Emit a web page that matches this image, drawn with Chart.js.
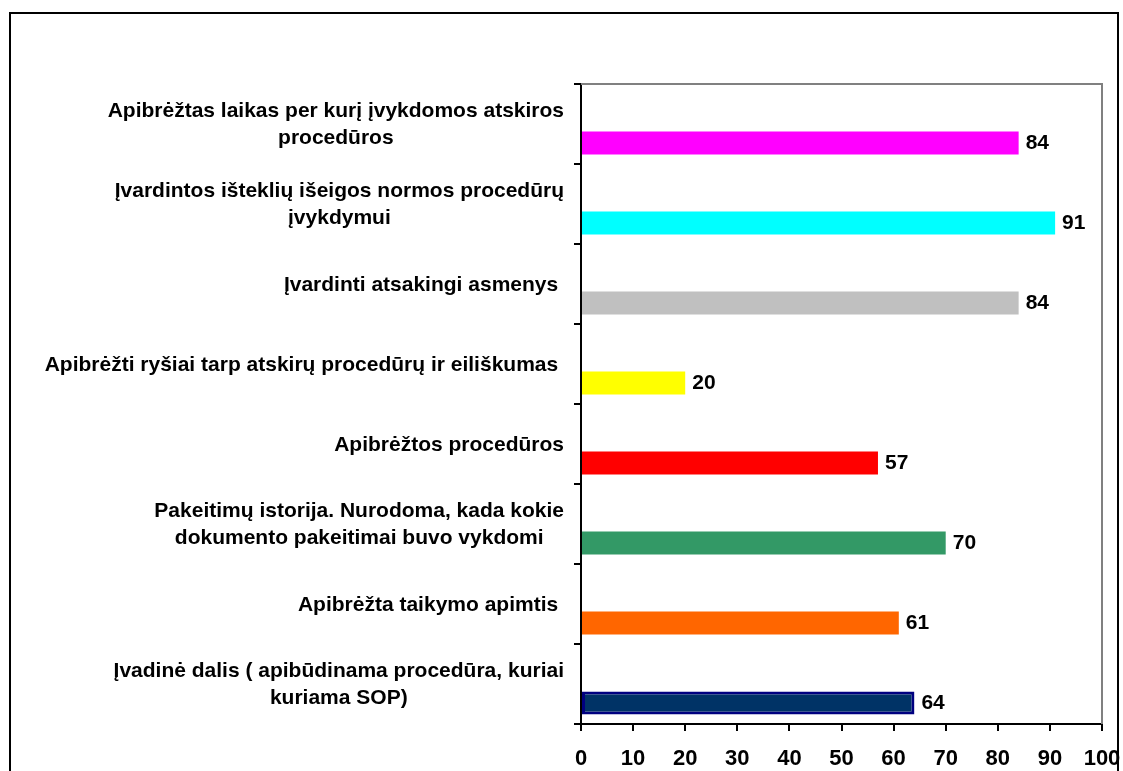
<!DOCTYPE html>
<html>
<head>
<meta charset="utf-8">
<script src="https://cdn.jsdelivr.net/npm/chart.js@4/dist/chart.umd.min.js"></script>
<style>
  html, body { margin: 0; padding: 0; background: #fff; overflow: hidden; }
  #wrap { position: relative; width: 1123px; height: 771px; }
  #frame { position: absolute; left: 9px; top: 12px; width: 1106px; height: 800px; border: 2px solid #000; }
  canvas { position: absolute; left: 0; top: 0; }
</style>
</head>
<body>
<div id="wrap">
  <div id="frame"></div>
  <canvas id="c" width="1123" height="771"></canvas>
</div>
<script>
// Categories (top to bottom); each entry is a list of text lines
const categories = [
  ["Apibrėžtas laikas per kurį įvykdomos atskiros", "procedūros"],
  ["Įvardintos išteklių išeigos normos procedūrų", "įvykdymui"],
  ["Įvardinti atsakingi asmenys "],
  ["Apibrėžti ryšiai tarp atskirų procedūrų ir eiliškumas "],
  ["Apibrėžtos procedūros"],
  ["Pakeitimų istorija. Nurodoma, kada kokie", "dokumento pakeitimai buvo vykdomi"],
  ["Apibrėžta taikymo apimtis "],
  ["Įvadinė dalis ( apibūdinama procedūra, kuriai", "kuriama SOP)"]
];

// Percentage values per category
const values = [84, 91, 84, 20, 57, 70, 61, 64];

// Bar fill and outline colours per category
const barColors   = ["#FF00FF", "#00FFFF", "#C0C0C0", "#FFFF00", "#FF0000", "#339966", "#FF6600", "#003366"];
const edgeColors  = ["#FF00FF", "#00FFFF", "#C0C0C0", "#FFFF00", "#FF0000", "#339966", "#FF6600", "#000080"];
const edgeWidths  = [0, 0, 0, 0, 0, 0, 0, 3];

// Value axis tick labels
const xTickValues = [0, 10, 20, 30, 40, 50, 60, 70, 80, 90, 100];

const FONT = '"Liberation Sans", Arial, Helvetica, sans-serif';

// Grey top/right edges of the plot area
const plotFrame = {
  id: 'plotFrame',
  beforeDatasetsDraw(chart) {
    const { ctx, chartArea: a } = chart;
    ctx.save();
    ctx.strokeStyle = '#808080';
    ctx.lineWidth = 2;
    ctx.beginPath();
    ctx.moveTo(a.left, a.top);
    ctx.lineTo(a.right, a.top);
    ctx.lineTo(a.right, a.bottom);
    ctx.stroke();
    ctx.restore();
  }
};

// Category names: each block right-aligned, its lines centred within the block
const categoryText = {
  id: 'categoryText',
  afterDraw(chart) {
    const { ctx } = chart;
    const yScale = chart.scales.y;
    const rightEdge = yScale.right - 17;
    const lineH = 27;
    ctx.save();
    ctx.font = 'bold 21px ' + FONT;
    ctx.fillStyle = '#000';
    ctx.textAlign = 'center';
    ctx.textBaseline = 'middle';
    chart.data.labels.forEach((lines, i) => {
      const cy = yScale.getPixelForValue(i) + 1;
      const w = Math.max(...lines.map(t => ctx.measureText(t).width));
      const cx = rightEdge - w / 2;
      const y0 = cy - (lines.length - 1) * lineH / 2;
      lines.forEach((t, k) => ctx.fillText(t, cx, y0 + k * lineH));
    });
    ctx.restore();
  }
};

// Value labels at the end of each bar
const valueText = {
  id: 'valueText',
  afterDatasetsDraw(chart) {
    const { ctx } = chart;
    const meta = chart.getDatasetMeta(1);
    const data = chart.data.datasets[1].data;
    ctx.save();
    ctx.font = 'bold 21px ' + FONT;
    ctx.fillStyle = '#000';
    ctx.textAlign = 'left';
    ctx.textBaseline = 'middle';
    meta.data.forEach((bar, i) => {
      ctx.fillText(String(data[i]), bar.x + 7, bar.y);
    });
    ctx.restore();
  }
};

new Chart(document.getElementById('c'), {
  type: 'bar',
  data: {
    labels: categories,
    datasets: [
      { label: 'tarpas', data: categories.map(() => null) },
      {
        label: 'Procentai',
        data: values,
        backgroundColor: barColors,
        borderColor: edgeColors,
        borderWidth: edgeWidths,
        borderSkipped: false
      }
    ]
  },
  options: {
    indexAxis: 'y',
    responsive: false,
    animation: false,
    devicePixelRatio: 1,
    categoryPercentage: 0.95,
    barPercentage: 0.605,
    layout: { padding: { top: 84, right: 21, left: 0, bottom: 0 } },
    plugins: { legend: { display: false }, tooltip: { enabled: false } },
    scales: {
      x: {
        type: 'linear',
        min: 0,
        max: 100,
        afterBuildTicks(scale) { scale.ticks = xTickValues.map(v => ({ value: v })); },
        afterFit(scale) {
          scale.height = 47;
          // the last tick label may run to the canvas edge
          scale.paddingLeft = 0;
          scale.paddingRight = 0;
        },
        grid: { drawOnChartArea: false, drawTicks: true, tickLength: 7, color: '#000', lineWidth: 2 },
        border: { color: '#000', width: 2 },
        ticks: {
          font: { family: FONT, weight: 'bold', size: 22 },
          color: '#000',
          padding: 15,
          maxRotation: 0,
          autoSkip: false
        }
      },
      y: {
        afterFit(scale) { scale.width = 581; },
        grid: { drawOnChartArea: false, tickLength: 7, color: '#000', lineWidth: 2, offset: true },
        border: { color: '#000', width: 2 },
        ticks: { display: false }
      }
    }
  },
  plugins: [plotFrame, categoryText, valueText]
});
</script>
</body>
</html>
